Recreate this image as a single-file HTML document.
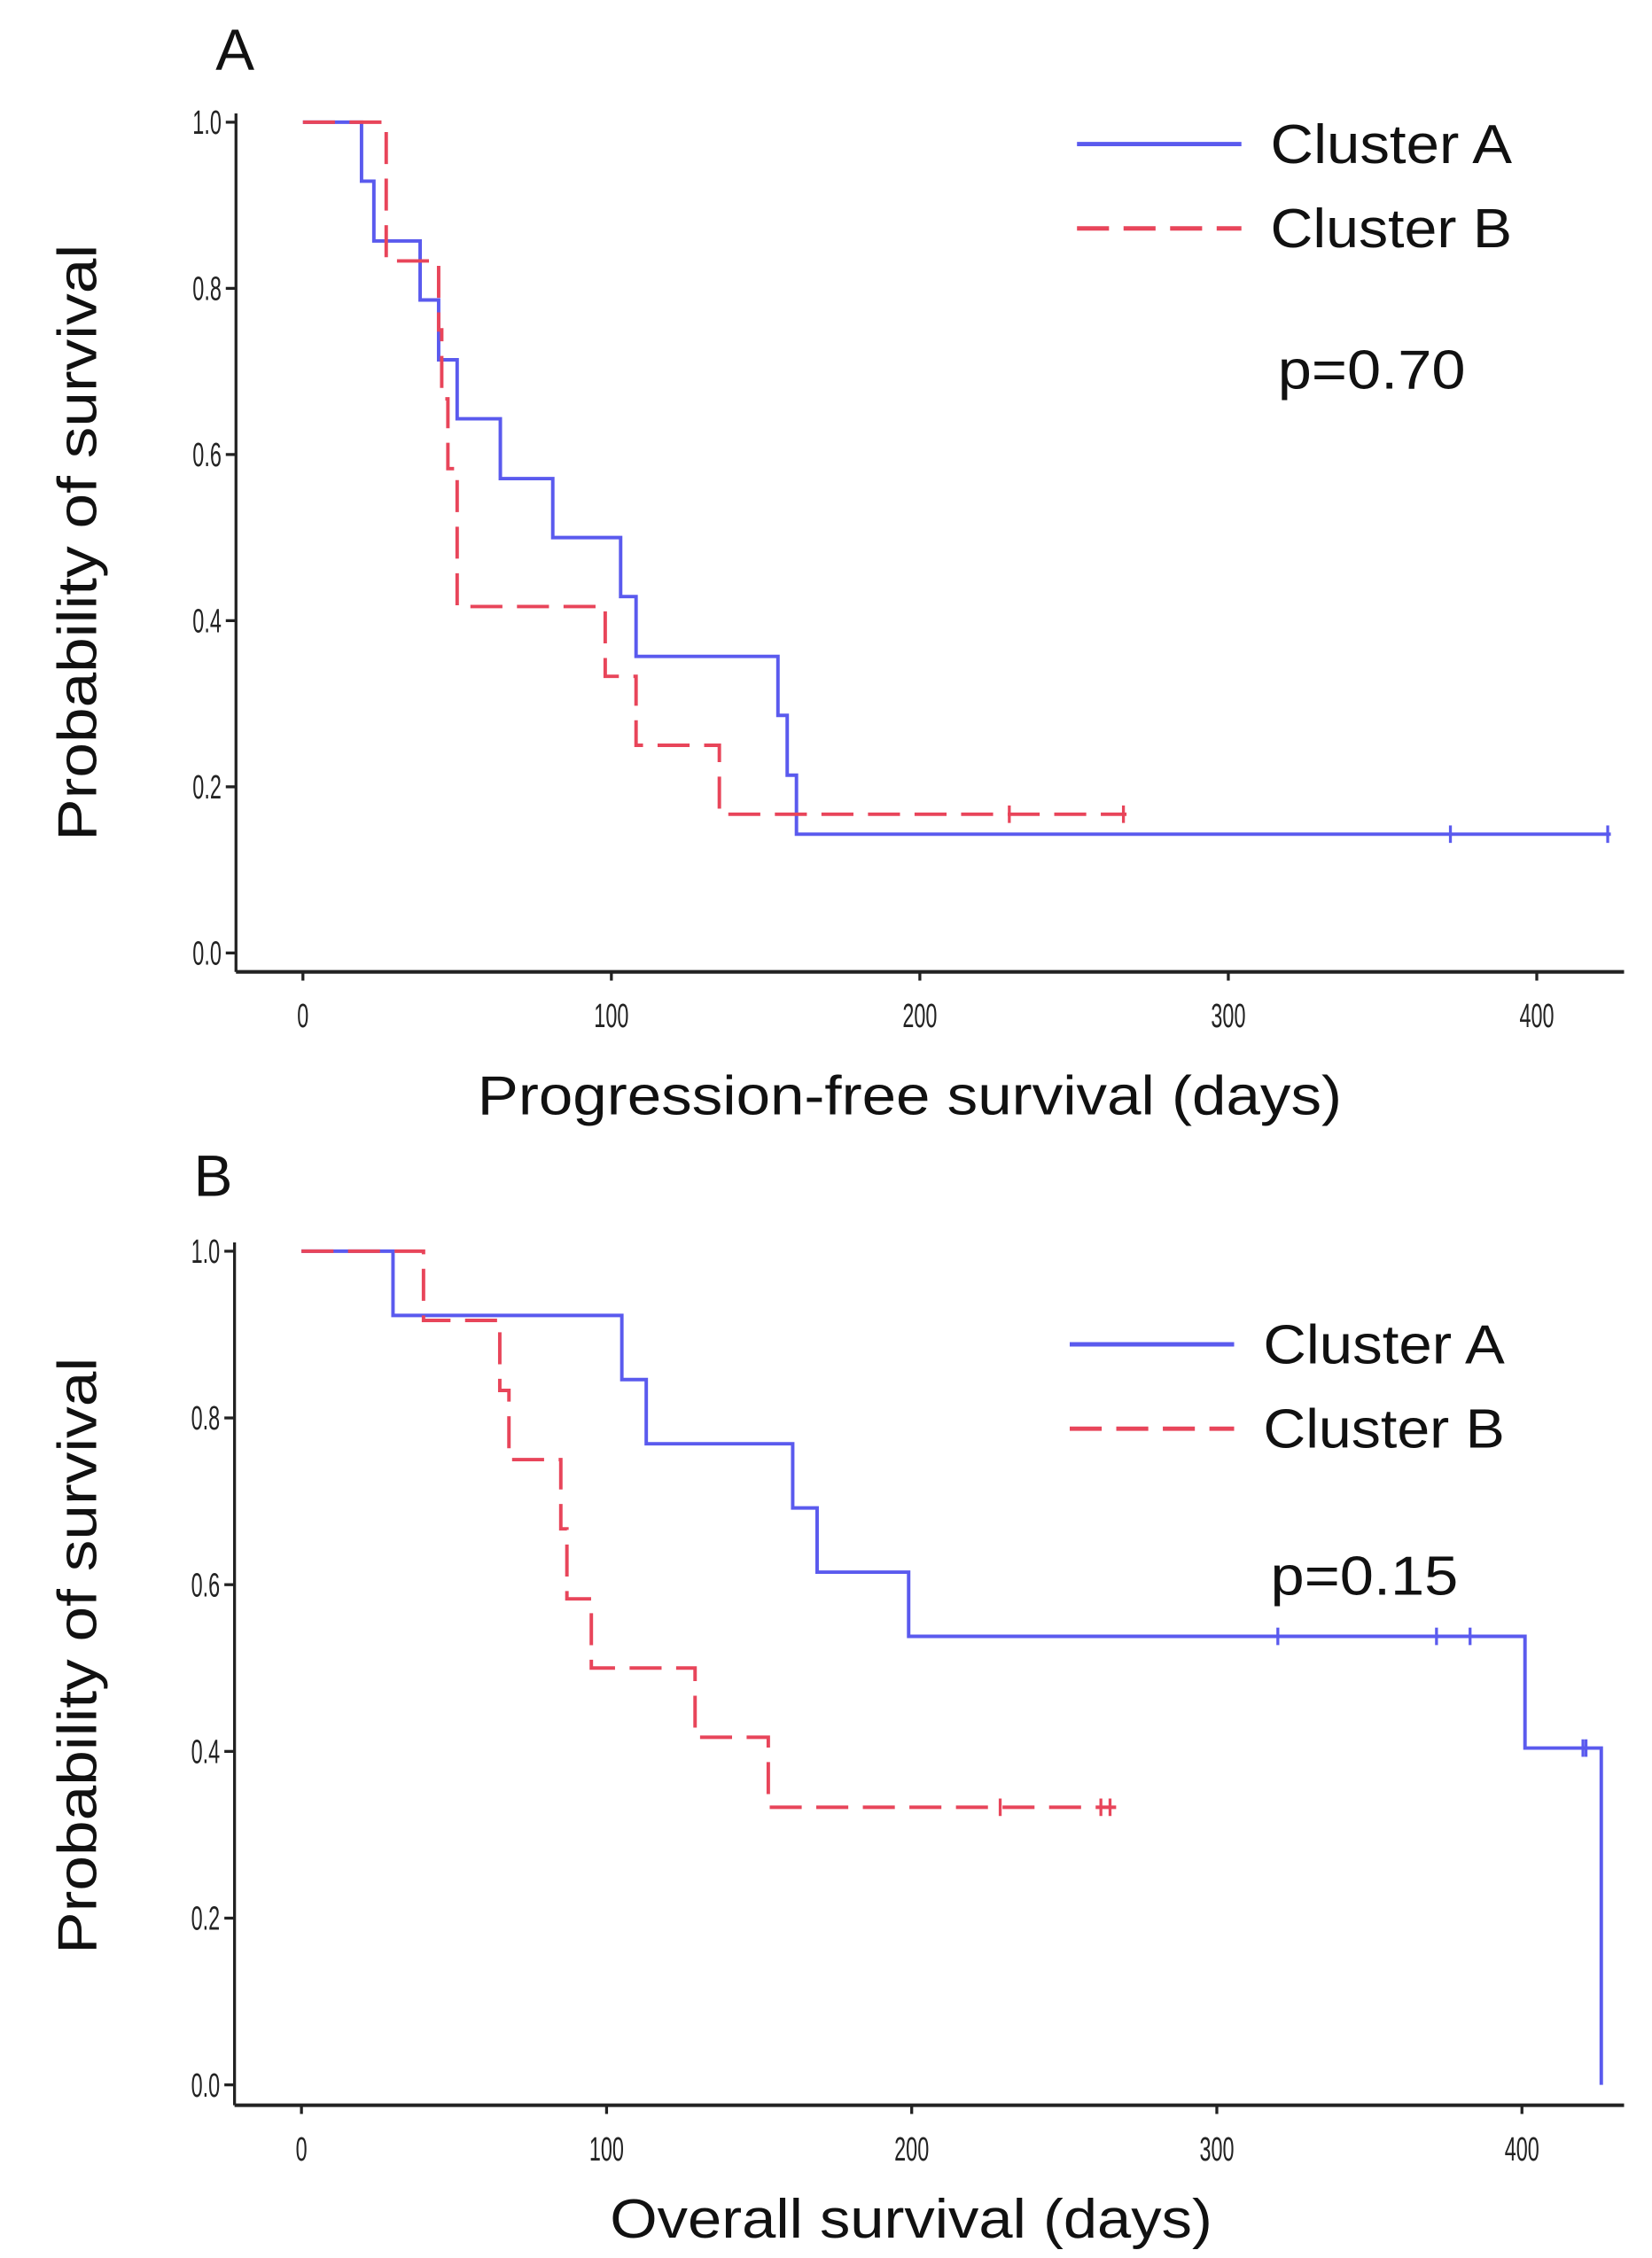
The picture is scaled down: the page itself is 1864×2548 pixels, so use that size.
<!DOCTYPE html>
<html><head><meta charset="utf-8">
<style>
html,body{margin:0;padding:0;background:#fff;}
svg{display:block;}
text{font-family:"Liberation Sans",sans-serif;}
</style></head>
<body>
<svg id="fig" width="1864" height="2548" viewBox="0 0 1135 1552" xmlns="http://www.w3.org/2000/svg"></svg>
<script>
// Panel A: progression-free survival
const pfsA_times=[19,23,38,44,50,64,81,103,108,154,157,160];
const pfsA_surv=[0.929,0.857,0.786,0.714,0.643,0.571,0.5,0.429,0.357,0.286,0.214,0.143];
const pfsA_end=424;
const pfsA_censor=[372,423];
const pfsB_times=[27,44,45,47,50,98,108,135];
const pfsB_surv=[0.833,0.75,0.667,0.583,0.417,0.333,0.25,0.167];
const pfsB_end=267;
const pfsB_censor=[229,266];
// Panel B: overall survival
const osA_times=[30,105,113,161,169,199,401,426];
const osA_surv=[0.923,0.846,0.769,0.692,0.615,0.538,0.404,0];
const osA_end=426;
const osA_censor=[320,372,383,420,421];
const osB_times=[40,65,68,85,87,95,129,153];
const osB_surv=[0.917,0.833,0.75,0.667,0.583,0.5,0.417,0.333];
const osB_end=267;
const osB_censor=[229,262,265];
const xTicks=[0,100,200,300,400];
const yTicks=[0,0.2,0.4,0.6,0.8,1.0];

const NS="http://www.w3.org/2000/svg";
const svg=document.getElementById('fig');
function mk(tag,attrs,parent){const e=document.createElementNS(NS,tag);for(const k in attrs)e.setAttribute(k,attrs[k]);(parent||svg).appendChild(e);return e;}

function panel(cfg){
  const g=mk('g',{});
  
  
  const xs=d=>cfg.x0+d*cfg.xk;
  const ys=v=>cfg.y1+(1-v)*(cfg.y0-cfg.y1);
  const ya=mk('line',{x1:cfg.ax,y1:cfg.axTop,x2:cfg.ax,y2:cfg.ay,stroke:'#222','stroke-width':2},g);
  
  
  const xa=mk('line',{x1:cfg.ax,y1:cfg.ay,x2:1116,y2:cfg.ay,stroke:'#222','stroke-width':2.5},g);
  
  
  yTicks.forEach(v=>{
    mk('line',{x1:cfg.ax-7,y1:ys(v),x2:cfg.ax,y2:ys(v),stroke:'#222','stroke-width':2},g);
    const t=mk('text',{x:cfg.ax-10,y:ys(v)+8,'font-size':23,'text-anchor':'end',fill:'#222',transform:`translate(${cfg.ax-10},0) scale(0.62,1) translate(${-(cfg.ax-10)},0)`},g);
    t.textContent=v.toFixed(1);
    
    
  });
  xTicks.forEach(d=>{
    mk('line',{x1:xs(d),y1:cfg.ay,x2:xs(d),y2:cfg.ay+6,stroke:'#222','stroke-width':2},g);
    const t=mk('text',{x:xs(d),y:cfg.ay+38,'font-size':23,'text-anchor':'middle',fill:'#222',transform:`translate(${xs(d)},0) scale(0.62,1) translate(${-xs(d)},0)`},g);
    t.textContent=d;
    
    
  });
  cfg.series.forEach(s=>{
    let d=`M${xs(0)},${ys(1)}`;let prev=1;
    s.times.forEach((t,i)=>{d+=` L${xs(t)},${ys(prev)} L${xs(t)},${ys(s.surv[i])}`;prev=s.surv[i];});
    d+=` L${xs(s.end)},${ys(prev)}`;
    const p=mk('path',{d:d,fill:'none',stroke:s.color,'stroke-width':2.4,'stroke-dasharray':s.dash||'none'},g);
    
    
    s.censor.forEach(c=>{
      let v=1;s.times.forEach((t,i)=>{if(t<=c)v=s.surv[i];});
      const m=mk('line',{x1:xs(c),y1:ys(v)-6,x2:xs(c),y2:ys(v)+6,stroke:s.color,'stroke-width':2},g);
      
      
    });
  });
  const lg=mk('g',{},g);
  
  
  mk('line',{x1:cfg.lx,y1:cfg.ly,x2:cfg.lx+113,y2:cfg.ly,stroke:'#5a5aee','stroke-width':3},lg);
  mk('line',{x1:cfg.lx,y1:cfg.ly+58,x2:cfg.lx+113,y2:cfg.ly+58,stroke:'#e8455a','stroke-width':3,'stroke-dasharray':'22 10'},lg);
  const la=mk('text',{x:cfg.lx+133,y:cfg.ly+13,'font-size':38,fill:'#111',textLength:166,lengthAdjust:'spacingAndGlyphs'},lg);la.textContent='Cluster A';
  
  
  const lb=mk('text',{x:cfg.lx+133,y:cfg.ly+71,'font-size':38,fill:'#111',textLength:166,lengthAdjust:'spacingAndGlyphs'},lg);lb.textContent='Cluster B';
  
  
  const pv=mk('text',{x:cfg.px,y:cfg.py,'font-size':38,fill:'#111',textLength:129,lengthAdjust:'spacingAndGlyphs'},g);pv.textContent=cfg.p;
  
  
  const lt=mk('text',{x:cfg.letX,y:cfg.letY,'font-size':40,fill:'#111'},g);lt.textContent=cfg.letter;
  
  
  const xt=mk('text',{x:cfg.xtX,y:cfg.xtY,'font-size':38,'text-anchor':'middle',fill:'#111',textLength:cfg.xtLen,lengthAdjust:'spacingAndGlyphs'},g);xt.textContent=cfg.xtitle;
  
  
  const yt=mk('text',{x:0,y:0,'font-size':38,'text-anchor':'middle',fill:'#111',textLength:410,lengthAdjust:'spacingAndGlyphs',transform:`translate(${cfg.ytX},${cfg.ytY}) rotate(-90)`},g);yt.textContent='Probability of survival';
  
  
}

panel({name:'panel-a-pfs',x0:208,xk:2.12,y1:84,y0:655,ax:162,axTop:78,ay:668,
  series:[
    {name:'curve-cluster-a',times:pfsA_times,surv:pfsA_surv,end:pfsA_end,censor:pfsA_censor,color:'#5a5aee'},
    {name:'curve-cluster-b',times:pfsB_times,surv:pfsB_surv,end:pfsB_end,censor:pfsB_censor,color:'#e8455a',dash:'22 10'}],
  lx:740,ly:99,px:878,py:267,p:'p=0.70',letter:'A',letX:148,letY:48,
  xtitle:'Progression-free  survival (days)',xtX:625,xtY:766,xtLen:594,ytX:66,ytY:373});
panel({name:'panel-b-os',x0:207,xk:2.097,y1:860,y0:1433,ax:161,axTop:854,ay:1447,
  series:[
    {name:'curve-cluster-a',times:osA_times,surv:osA_surv,end:osA_end,censor:osA_censor,color:'#5a5aee'},
    {name:'curve-cluster-b',times:osB_times,surv:osB_surv,end:osB_end,censor:osB_censor,color:'#e8455a',dash:'22 10'}],
  lx:735,ly:924,px:873,py:1096,p:'p=0.15',letter:'B',letX:133,letY:822,
  xtitle:'Overall survival (days)',xtX:626,xtY:1538,xtLen:414,ytX:66,ytY:1138});
</script>
</body></html>
